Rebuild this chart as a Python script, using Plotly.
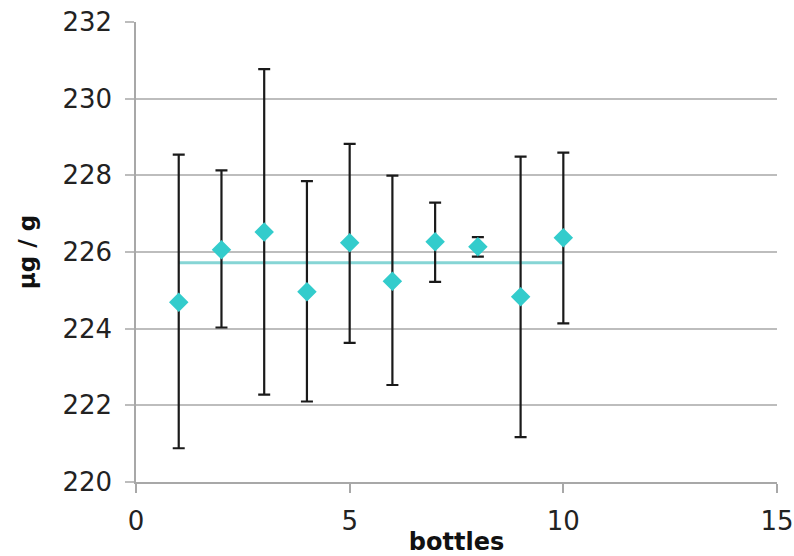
import plotly.graph_objects as go

bottles = [1, 2, 3, 4, 5, 6, 7, 8, 9, 10]
values = [224.69, 226.06, 226.52, 224.96, 226.24, 225.24, 226.27, 226.14, 224.83, 226.37]
upper = [228.54, 228.13, 230.77, 227.85, 228.82, 227.99, 227.29, 226.39, 228.49, 228.59]
lower = [220.88, 224.03, 222.28, 222.10, 223.63, 222.53, 225.22, 225.88, 221.17, 224.14]
mean_x = [1, 10]
mean_val = 225.72

err_plus = [u - v for u, v in zip(upper, values)]
err_minus = [v - l for v, l in zip(values, lower)]

fig = go.Figure()
fig.add_trace(go.Scatter(
    x=mean_x, y=[mean_val, mean_val], mode="lines",
    line=dict(color="#86D5D5", width=3), showlegend=False, hoverinfo="skip"))
fig.add_trace(go.Scatter(
    x=bottles, y=values, mode="markers",
    marker=dict(symbol="diamond", size=15, color="#33CCCC", line=dict(width=0)),
    error_y=dict(type="data", symmetric=False, array=err_plus, arrayminus=err_minus,
                 color="#1a1a1a", thickness=2.2, width=6),
    showlegend=False))

fig.update_layout(
    width=794, height=556,
    margin=dict(l=136, r=17, t=22, b=74),
    paper_bgcolor="white", plot_bgcolor="white",
    font=dict(family="DejaVu Sans, Verdana, sans-serif", color="#222222"),
    xaxis=dict(range=[0, 15], tickvals=[0, 5, 10, 15], showgrid=False, zeroline=False,
               showline=True, linecolor="#a8a8a8", linewidth=1.5,
               ticks="outside", ticklen=9, tickcolor="#a8a8a8", tickwidth=1.5,
               ticklabelstandoff=6, ticklabeloverflow="allow", automargin=False,
               tickfont=dict(size=26, color="#222222"),
               title=dict(text="<b>bottles</b>", font=dict(size=24, color="#111111"), standoff=0)),
    yaxis=dict(range=[220, 232], tickvals=[220, 222, 224, 226, 228, 230, 232],
               showgrid=True, gridcolor="#bdbdbd", gridwidth=2, zeroline=False,
               showline=True, linecolor="#a8a8a8", linewidth=1.5,
               ticks="outside", ticklen=9, tickcolor="#bdbdbd", tickwidth=2,
               ticklabelstandoff=8, ticklabeloverflow="allow", automargin=False,
               tickfont=dict(size=26, color="#222222"),
               title=dict(text="<b>μg / g</b>", font=dict(size=23, color="#111111"), standoff=20)),
)

fig.write_html("out.html")
